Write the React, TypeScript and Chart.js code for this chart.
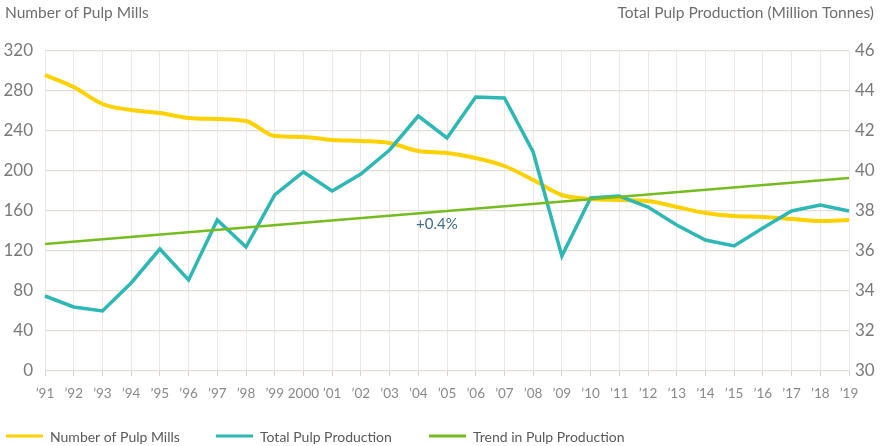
import React, { useEffect, useRef } from "react";
import { Chart, registerables } from "chart.js";

Chart.register(...registerables);

const years = [
  "’91", "’92", "’93", "’94", "’95", "’96", "’97", "’98", "’99", "2000",
  "’01", "’02", "’03", "’04", "’05", "’06", "’07", "’08", "’09", "’10",
  "’11", "’12", "’13", "’14", "’15", "’16", "’17", "’18", "’19",
];

const pulpMills = [
  296, 284, 267, 261, 258, 253, 252, 250, 235, 234,
  231, 230, 228, 220, 218, 213, 205, 191, 176, 172,
  171, 170, 164, 158, 155, 154, 152, 150, 151,
];

const pulpProduction = [
  33.75, 33.2, 33.0, 34.4, 36.1, 34.55, 37.55, 36.2, 38.8, 39.95,
  39.0, 39.85, 41.05, 42.75, 41.65, 43.7, 43.65, 40.95, 35.75, 38.65,
  38.75, 38.2, 37.3, 36.55, 36.25, 37.15, 38.0, 38.3, 38.0,
];

const trendStart = 36.35;
const trendEnd = 39.65;
const trendPulp: (number | null)[] = years.map((_, i) =>
  i === 0 ? trendStart : i === years.length - 1 ? trendEnd : null
);

const trendLabel = "+0.4%";
const leftTitle = "Number of Pulp Mills";
const rightTitle = "Total Pulp Production (Million Tonnes)";

const FONT = "Lato, 'Open Sans', sans-serif";
const COLORS = { mills: "#FFD100", prod: "#2DB8B5", trend: "#76BC21" };

const overlayPlugin = {
  id: "overlay",
  afterDraw(chart: any) {
    const ctx = chart.ctx as CanvasRenderingContext2D;
    const x = chart.scales.x;
    const yR = chart.scales.yR;
    ctx.save();
    // axis titles
    ctx.font = `15.5px ${FONT}`;
    ctx.fillStyle = "#6e6e6e";
    ctx.textBaseline = "middle";
    ctx.textAlign = "left";
    ctx.fillText(leftTitle, 5, 13);
    ctx.textAlign = "right";
    ctx.fillText(rightTitle, 874, 13);

    // trend annotation
    const ax = x.getPixelForValue(13.65);
    const ay = yR.getPixelForValue(trendStart + (trendEnd - trendStart) * (13.65 / 28));
    ctx.font = `15px ${FONT}`;
    ctx.fillStyle = "#3f6e85";
    ctx.textAlign = "center";
    ctx.fillText(trendLabel, ax, ay + 12);

    // legend
    const items = chart.data.datasets.map((d: any) => ({ label: d.label, color: d.borderColor }));
    const starts = [6, 216, 429];
    const ly = 436;
    ctx.font = `14px ${FONT}`;
    ctx.textAlign = "left";
    items.forEach((it: any, i: number) => {
      const sx = starts[i];
      ctx.strokeStyle = it.color;
      ctx.lineWidth = 3;
      ctx.beginPath();
      ctx.moveTo(sx, ly);
      ctx.lineTo(sx + 37, ly);
      ctx.stroke();
      ctx.fillStyle = "#5a5a5a";
      ctx.fillText(it.label, sx + 44, ly + 1);
    });
    ctx.restore();
  },
};

export default function App() {
  const ref = useRef<HTMLCanvasElement | null>(null);

  useEffect(() => {
    document.body.style.margin = "0";
    if (!ref.current) return;
    const chart = new Chart(ref.current, {
      type: "line",
      data: {
        labels: years,
        datasets: [
          {
            label: "Number of Pulp Mills",
            data: pulpMills,
            yAxisID: "yL",
            borderColor: COLORS.mills,
            backgroundColor: COLORS.mills,
            borderWidth: 4,
            pointRadius: 0,
            cubicInterpolationMode: "monotone",
            order: 2,
          },
          {
            label: "Total Pulp Production",
            data: pulpProduction,
            yAxisID: "yR",
            borderColor: COLORS.prod,
            backgroundColor: COLORS.prod,
            borderWidth: 3.5,
            pointRadius: 0,
            tension: 0,
            order: 1,
          },
          {
            label: "Trend in Pulp Production",
            data: trendPulp,
            yAxisID: "yR",
            borderColor: COLORS.trend,
            backgroundColor: COLORS.trend,
            borderWidth: 2.5,
            pointRadius: 0,
            spanGaps: true,
            order: 0,
          },
        ],
      },
      options: {
        responsive: false,
        animation: false,
        layout: { padding: { top: 51, left: 0, right: 0, bottom: 0 } },
        plugins: {
          legend: { display: false },
          tooltip: { enabled: false },
          title: { display: false },
        },
        scales: {
          x: {
            type: "category",
            offset: false,
            border: { display: false },
            grid: {
              color: "#eee9e4",
              lineWidth: 1,
              borderDash: [4, 4],
              drawTicks: true,
              tickLength: 5,
              tickColor: "#ddd3ca",
              tickBorderDash: [],
            } as any,
            ticks: {
              autoSkip: false,
              maxRotation: 0,
              padding: 10,
              color: "#8a8a8a",
              font: { family: FONT, size: 13.5 },
            },
            afterFit: (s: any) => {
              s.height = 75;
            },
          },
          yL: {
            type: "linear",
            position: "left",
            min: 0,
            max: 320,
            border: { display: false },
            grid: { color: "#e4ded8", lineWidth: 1.3, drawTicks: false },
            ticks: {
              stepSize: 40,
              padding: 12,
              color: "#7a7a7a",
              font: { family: FONT, size: 17 },
            },
            afterFit: (s: any) => {
              s.width = 45;
            },
          },
          yR: {
            type: "linear",
            position: "right",
            min: 30,
            max: 46,
            border: { display: false },
            grid: { display: false, drawTicks: false },
            ticks: {
              stepSize: 2,
              padding: 6,
              color: "#7a7a7a",
              font: { family: FONT, size: 17 },
            },
            afterFit: (s: any) => {
              s.width = 35;
            },
          },
        },
      } as any,
      plugins: [overlayPlugin],
    });
    return () => chart.destroy();
  }, []);

  return (
    <div style={{ width: 884, height: 446 }}>
      <canvas ref={ref} width={884} height={446} style={{ display: "block" }} />
    </div>
  );
}
